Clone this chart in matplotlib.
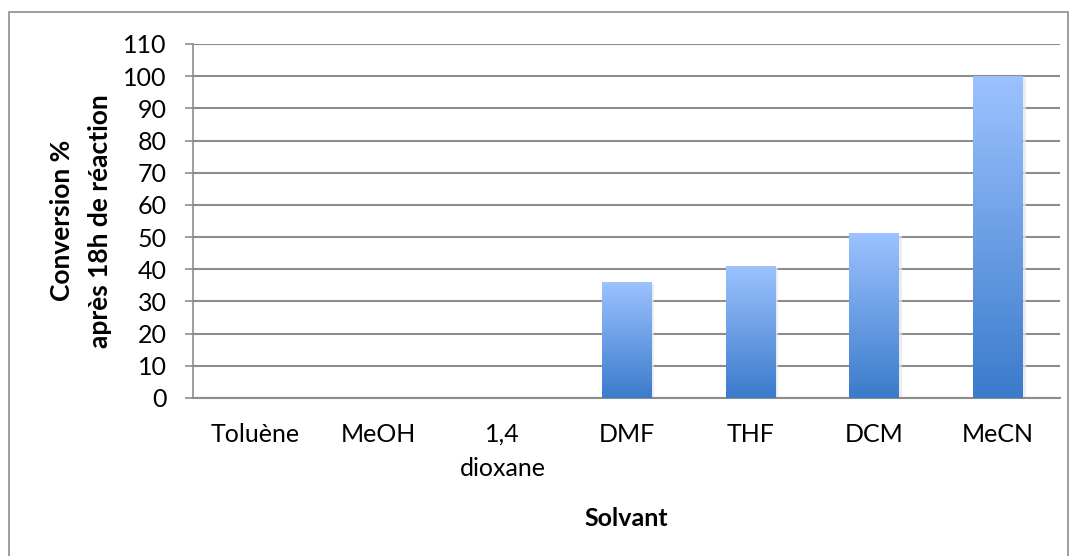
import matplotlib.pyplot as plt
import numpy as np
from matplotlib.colors import LinearSegmentedColormap
from matplotlib.patches import Rectangle

plt.rcParams['font.family'] = ['Lato', 'DejaVu Sans']

solvants = ["Toluène", "MeOH", "1,4\ndioxane", "DMF", "THF", "DCM", "MeCN"]
conversion = [0, 0, 0, 36, 41, 51, 100]

fig = plt.figure(figsize=(10.77, 5.56), dpi=100)
ax = fig.add_axes([0.1792, 0.2842, 0.805, 0.6367])

# figure border
fig.patches.append(Rectangle((9 / 1077, -0.01), 1059 / 1077, 1 - 12 / 556 + 0.01,
                             transform=fig.transFigure, fill=False,
                             edgecolor="#8c8c8c", linewidth=1.2))

grad = LinearSegmentedColormap.from_list("bleu", ["#3b7bcb", "#9cc2ff"])
x = np.arange(len(solvants))
w = 0.4
for xi, v in zip(x, conversion):
    if v <= 0:
        continue
    # faint shadow to the right
    ax.add_patch(Rectangle((xi - w / 2 + 0.025, 0), w, v - 0.6, facecolor="#e6e6e6",
                           edgecolor="none", zorder=2, alpha=0.7))
    ax.imshow(np.linspace(0, 1, 256).reshape(-1, 1), cmap=grad, origin="lower",
              extent=(xi - w / 2, xi + w / 2, 0, v), aspect="auto", zorder=3)

fs = 18
ax.set_xlim(-0.5, len(solvants) - 0.5)
ax.set_ylim(0, 110)
ax.set_yticks(np.arange(0, 111, 10))
ax.set_xticks(x)
ax.set_xticklabels(solvants, fontsize=fs, linespacing=1.6, va="top")
ax.tick_params(axis="y", labelsize=fs, length=6, color="#8c8c8c", pad=13, width=1.2)
ax.tick_params(axis="x", length=0, pad=18)
ax.grid(axis="y", color="#8c8c8c", linewidth=1.5, zorder=1)
ax.set_axisbelow(True)
for s in ["top", "right"]:
    ax.spines[s].set_visible(False)
ax.spines["left"].set_color("#8c8c8c")
ax.spines["bottom"].set_color("#8c8c8c")
ax.spines["left"].set_linewidth(1.2)
ax.spines["bottom"].set_linewidth(1.5)

ax.set_xlabel("Solvant", fontsize=fs, fontweight="bold", labelpad=19)
fig.text(62 / 1077, 0.603, "Conversion %", rotation=90, fontsize=19, fontweight="bold",
         ha="center", va="center")
fig.text(100 / 1077, 0.603, "après 18h de réaction", rotation=90, fontsize=19,
         fontweight="bold", ha="center", va="center")

plt.savefig("out.png", dpi=100)
